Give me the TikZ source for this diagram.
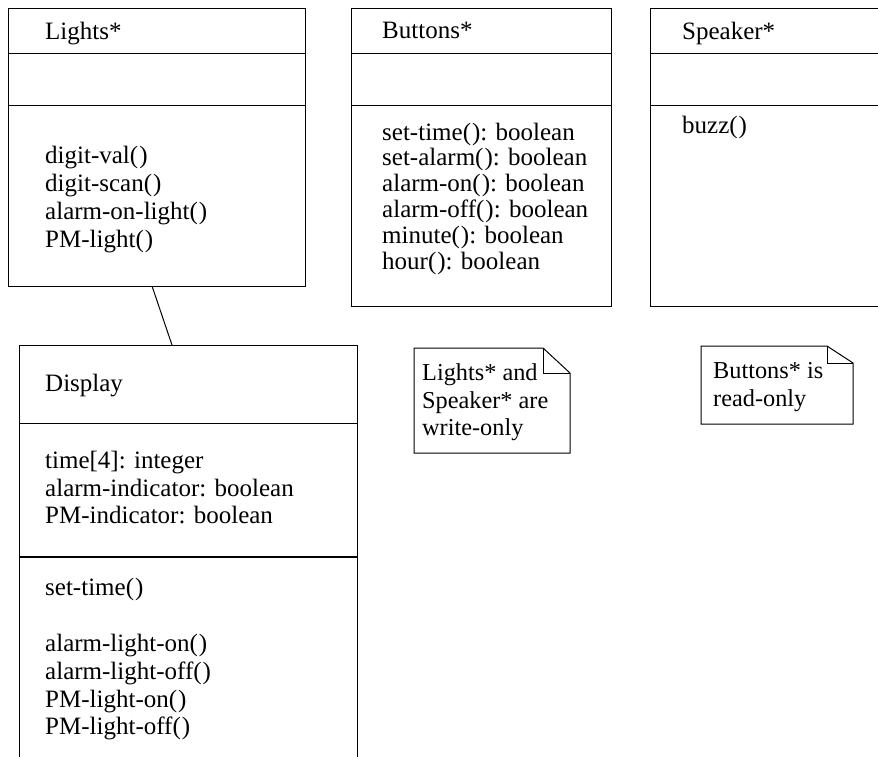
\documentclass[tikz,border=0pt]{standalone}
\usepackage{fontspec}
\setmainfont{Liberation Serif}
\newcommand{\pp}{(\kern1pt)}
\begin{document}
\begin{tikzpicture}[x=1pt,y=-1pt,
  box/.style={draw, line width=1pt, inner sep=0pt, anchor=north west},
  txt/.style={anchor=base west, inner sep=0pt, font=\fontsize{25}{28}\selectfont},
  ntxt/.style={anchor=base west, inner sep=0pt, font=\fontsize{24.3}{28}\selectfont},
  sep/.style={line width=1pt},
  notebox/.style={draw, line width=1pt}]
\useasboundingbox (0,0) rectangle (878,756);
\clip (0,0) rectangle (878,756);
\fill[white] (0,0) rectangle (878,756);

% Lights*
\node[box, minimum width=297pt, minimum height=278pt] (lights) at (8,8) {};
\draw[sep] (lights.west |- 0,53) -- (lights.east |- 0,53);
\draw[sep] (lights.west |- 0,105) -- (lights.east |- 0,105);
\node[txt] (lname) at (45,39) {Lights*};
\foreach \t [count=\i] in {digit-val\pp,digit-scan\pp,alarm-on-light\pp,PM-light\pp}
  \node[txt] (lm\i) at (45,163+28*\i-28) {\t};

% Buttons*
\node[box, minimum width=260pt, minimum height=298pt] (buttons) at (351,8) {};
\draw[sep] (buttons.west |- 0,53) -- (buttons.east |- 0,53);
\draw[sep] (buttons.west |- 0,105) -- (buttons.east |- 0,105);
\node[txt] (bname) at (382,38) {Buttons*};
\foreach \t [count=\i] in {set-time\pp: boolean,set-alarm\pp: boolean,alarm-on\pp: boolean,alarm-off\pp: boolean,minute\pp: boolean,hour\pp: boolean}
  \node[txt] (bm\i) at (382,140+25.8*\i-25.8) {\t};

% Speaker*
\node[box, minimum width=260pt, minimum height=298pt] (speaker) at (650,8) {};
\draw[sep] (speaker.west |- 0,53) -- (speaker.east |- 0,53);
\draw[sep] (speaker.west |- 0,105) -- (speaker.east |- 0,105);
\node[txt] (sname) at (682,39) {Speaker*};
\node[txt] (sm1) at (682,133) {buzz\pp};

% Display
\node[box, minimum width=338pt, minimum height=430pt] (display) at (19,345) {};
\draw[sep] (display.west |- 0,423) -- (display.east |- 0,423);
\draw[line width=1.7pt] (display.west |- 0,557) -- (display.east |- 0,557);
\node[txt] (dname) at (45,391) {Display};
\node[txt] (da1) at (45,468) {time[4]: integer};
\node[txt] (da2) at (45,496) {alarm-indicator: boolean};
\node[txt] (da3) at (45,523) {PM-indicator: boolean};
\node[txt] (dm1) at (45,595) {set-time\pp};
\node[txt] (dm2) at (45,651) {alarm-light-on\pp};
\node[txt] (dm3) at (45,679) {alarm-light-off\pp};
\node[txt] (dm4) at (45,707) {PM-light-on\pp};
\node[txt] (dm5) at (45,734) {PM-light-off\pp};

% association
\coordinate (la) at (152,286);
\coordinate (da) at (172,345);
\draw[line width=1pt] (la) -- (da);

% Note 1
\draw[notebox] (414,348) -- (543,348) -- (570,373) -- (570,453) -- (414,453) -- cycle;
\draw[line width=1pt] (543,348) -- (543,373) -- (570,373);
\node[ntxt] (n1a) at (422,380) {Lights* and};
\node[ntxt] (n1b) at (422,408) {Speaker* are};
\node[ntxt] (n1c) at (422,435) {write-only};

% Note 2
\draw[notebox] (701,346) -- (827,346) -- (853,363) -- (853,424) -- (701,424) -- cycle;
\draw[line width=1pt] (827,346) -- (827,363) -- (853,363);
\node[ntxt] (n2a) at (713,378) {Buttons* is};
\node[ntxt] (n2b) at (713,406) {read-only};
\end{tikzpicture}
\end{document}
